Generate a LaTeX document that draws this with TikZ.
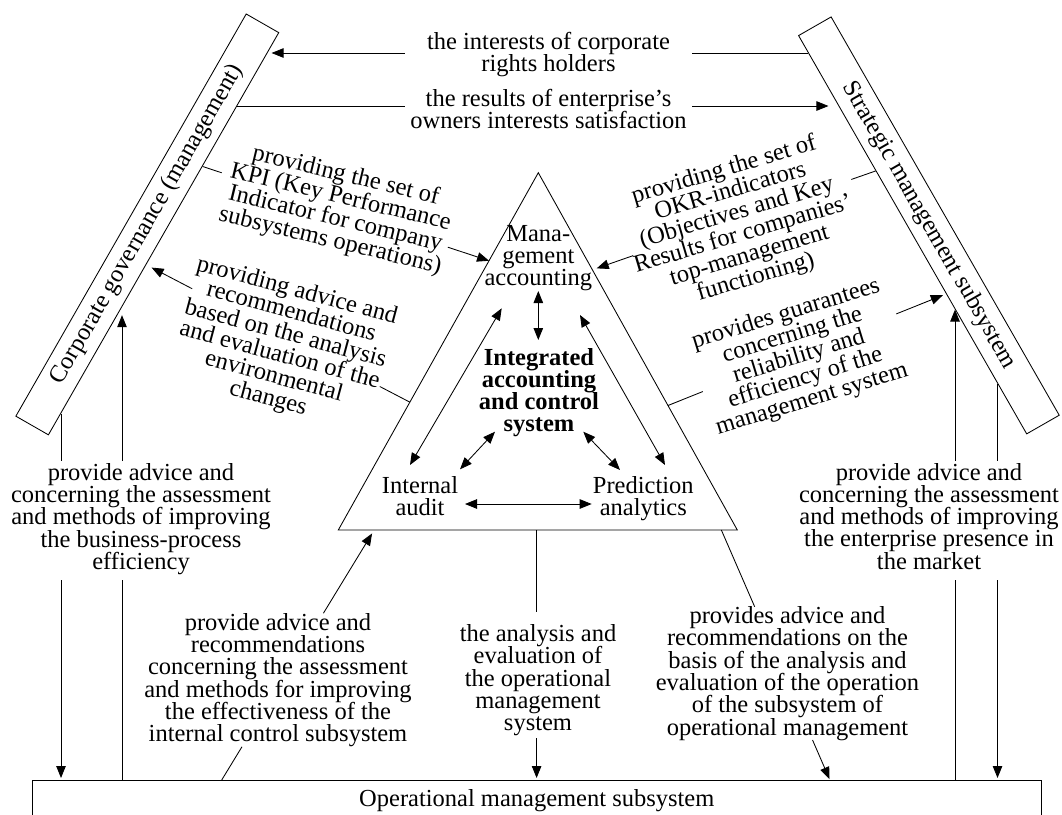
\documentclass[tikz,border=0pt]{standalone}
\usepackage{fontspec}
\setmainfont{Liberation Serif}
\usetikzlibrary{arrows.meta,calc}
\begin{document}
\lineskiplimit=-30pt
\lineskip=0pt
\begin{tikzpicture}[x=1pt,y=-1pt,
  txt/.style={font=\fontsize{24.5}{22.3}\selectfont},
  every node/.style={txt},
  lbl/.style={align=center,inner sep=0pt},
  conn/.style={line width=0.85pt},
  >={Triangle[length=12pt,width=9.5pt]},
  slab/.style={draw,line width=0.85pt,inner sep=0pt,minimum height=37.5pt},
]
\useasboundingbox (0,0) rectangle (1062,814);

% ---------- the three subsystems ----------
\node[slab,rotate=60.2,minimum width=463.5pt] (cg) at (147.3,224.4) {Corporate governance (management)};
\node[slab,rotate=-60.2,minimum width=459pt] (sm) at (928.9,225.4) {Strategic management subsystem};
\node[draw,conn,anchor=north west,minimum width=1009.3pt,minimum height=41.4pt,inner sep=0pt] (om) at (31.7,780) {Operational management subsystem};

% ---------- central triangle ----------
\coordinate (tA) at (538.3,172.7);
\coordinate (tL) at (338.3,530);
\coordinate (tR) at (737.3,530);
\draw[conn] (tA) -- (tL) -- (tR) -- cycle;

\node[lbl] (ma) at (538.3,258) {Mana-\\gement\\accounting};
\node[lbl,font=\fontsize{24.5}{22.2}\selectfont\bfseries] (core) at (539,392.6) {Integrated\\accounting\\and control\\system};
\node[lbl] (ia) at (420,495.8) {Internal\\audit};
\node[lbl] (pa) at (643.3,498.4) {Prediction\\analytics};

% links inside the triangle
\coordinate (maS) at (538.3,291);   \coordinate (coreN) at (538.3,340);
\coordinate (maL) at (501.7,308.3); \coordinate (iaN) at (410,465);
\coordinate (maR) at (580,315);     \coordinate (paN) at (665,465);
\coordinate (coreSW) at (495,431.7); \coordinate (iaNE) at (460,469.3);
\coordinate (coreSE) at (583.3,431.7); \coordinate (paNW) at (620,470);
\coordinate (iaE) at (465,504);     \coordinate (paW) at (591.7,504);
\draw[conn,<->] (maS) -- (coreN);
\draw[conn,<->] (maL) -- (iaN);
\draw[conn,<->] (maR) -- (paN);
\draw[conn,<->] (coreSW) -- (iaNE);
\draw[conn,<->] (coreSE) -- (paNW);
\draw[conn,<->] (iaE) -- (paW);

% ---------- upper horizontal flows ----------
\node[lbl,minimum width=287pt] (t1) at (548.5,54.8) {the interests of corporate\\rights holders};
\node[lbl,minimum width=287pt] (t2) at (548.5,109.2) {the results of enterprise's\\owners interests satisfaction};

\coordinate (i1R) at (intersection of sm.south west--sm.south east and 700,53--900,53);
\coordinate (i1L) at (intersection of cg.south west--cg.south east and 100,53--400,53);
\draw[conn] (i1R) -- (i1R -| t1.east);
\draw[conn,->,shorten >=4pt] (i1L -| t1.west) -- (i1L);

\coordinate (r1L) at (intersection of cg.south west--cg.south east and 100,106--400,106);
\coordinate (r1R) at (intersection of sm.south west--sm.south east and 700,106--900,106);
\draw[conn] (r1L) -- (r1L -| t2.west);
\draw[conn,->,shorten >=10pt] (r1R -| t2.east) -- (r1R);

% ---------- KPI flow ----------
\node[lbl,rotate=-13.5] (kpi) at (338,208.5) {providing the set of\\KPI (Key Performance\\Indicator for company\\subsystems operations)};
\coordinate (kS) at (intersection of cg.south west--cg.south east and 203.3,166.7--486.7,260);
\coordinate (kE) at (intersection of tA--tL and 203.3,166.7--486.7,260);
\draw[conn] (kS) -- ($(kS)!0.067!(kE)$);
\draw[conn,->] ($(kS)!0.856!(kE)$) -- (kE);

% ---------- environmental advice flow ----------
\node[lbl,rotate=-15] (env) at (282.5,345) {providing advice and\\recommendations\\based on the analysis\\and evaluation of the\\environmental\\changes};
\coordinate (eS) at (intersection of cg.south west--cg.south east and 153,268.3--409,401.7);
\coordinate (eE) at (intersection of tA--tL and 153,268.3--409,401.7);
\draw[conn,->,shorten >=6pt] ($(eS)!0.174!(eE)$) -- (eS);
\draw[conn] ($(eS)!0.886!(eE)$) -- (eE);

% ---------- OKR flow ----------
\node[lbl,rotate=16.5] (okr) at (740,224) {providing the set of\\OKR-indicators\\(Objectives and Key\\Results for companies'\\top-management\\functioning)};
\coordinate (oS) at (intersection of sm.south west--sm.south east and 873.3,171.7--596.7,268.3);
\coordinate (oE) at (intersection of tA--tR and 873.3,171.7--596.7,268.3);
\draw[conn] (oS) -- ($(oS)!0.086!(oE)$);
\draw[conn,->,shorten >=4.5pt] ($(oS)!0.856!(oE)$) -- (oE);

% ---------- guarantees flow ----------
\node[lbl,rotate=17] (gua) at (799,357) {provides guarantees\\concerning the\\reliability and\\efficiency of the\\management system};
\coordinate (gS) at (intersection of tA--tR and 673.3,403.3--943.3,295);
\coordinate (gE) at (intersection of sm.south west--sm.south east and 673.3,403.3--943.3,295);
\draw[conn] (gS) -- ($(gS)!0.125!(gE)$);
\draw[conn,->,shorten >=3.5pt] ($(gS)!0.821!(gE)$) -- (gE);

% ---------- vertical flows at the sides ----------
\coordinate (gapT) at (0,461);
\coordinate (gapB) at (0,580);
\node[lbl] (lb) at (141,518.9) {provide advice and\\concerning the assessment\\and methods of improving\\the business-process\\efficiency};
\node[lbl] (rb) at (929,516.3) {provide advice and\\concerning the assessment\\and methods of improving\\the enterprise presence in\\the market};

\coordinate (lv1) at (intersection of cg.south west--cg.south east and 61,0--61,800);
\coordinate (lv2) at (intersection of cg.south west--cg.south east and 122,0--122,800);
\draw[conn] (lv1) -- (lv1 |- gapT);
\draw[conn,->,shorten >=2pt] (lv1 |- gapB) -- (om.north -| lv1);
\draw[conn] (om.north -| lv2) -- (lv2 |- gapB);
\draw[conn,->,shorten >=8pt] (lv2 |- gapT) -- (lv2);

\coordinate (rv1) at (intersection of sm.south west--sm.south east and 955,0--955,800);
\coordinate (rv2) at (intersection of sm.south west--sm.south east and 997.5,0--997.5,800);
\draw[conn] (om.north -| rv1) -- (rv1 |- gapB);
\draw[conn,->] (rv1 |- gapT) -- (rv1);
\draw[conn] (rv2) -- (rv2 |- gapT);
\draw[conn,->,shorten >=2pt] (rv2 |- gapB) -- (om.north -| rv2);

% ---------- flows between triangle and operational subsystem ----------
\node[lbl] (cb) at (538,680.2) {the analysis and\\evaluation of\\the operational\\management\\system};
\coordinate (cbt) at ($(tL)!0.497!(tR)$);
\draw[conn] (cbt) -- (cbt |- 0,612);
\draw[conn,->,shorten >=2pt] (cbt |- 0,738) -- (om.north -| cbt);

\node[lbl] (icn) at (278,680.2) {provide advice and\\recommendations\\concerning the assessment\\and methods for improving\\the effectiveness of the\\internal control subsystem};
\coordinate (icS) at (221.7,780);
\coordinate (icE) at (intersection of tL--tR and 221.7,780--371.7,534);
\draw[conn] (icS) -- ($(icS)!0.133!(icE)$);
\draw[conn,->,shorten >=4pt] ($(icS)!0.667!(icE)$) -- (icE);

\node[lbl] (ob) at (787.5,673.5) {provides advice and\\recommendations on the\\basis of the analysis and\\evaluation of the operation\\of the subsystem of\\operational management};
\coordinate (opS) at ($(tL)!0.96!(tR)$);
\coordinate (opE) at (829.9,780);
\draw[conn] (opS) -- ($(opS)!0.307!(opE)$);
\draw[conn,->,shorten >=1pt] ($(opS)!0.84!(opE)$) -- (opE);
\end{tikzpicture}
\end{document}
